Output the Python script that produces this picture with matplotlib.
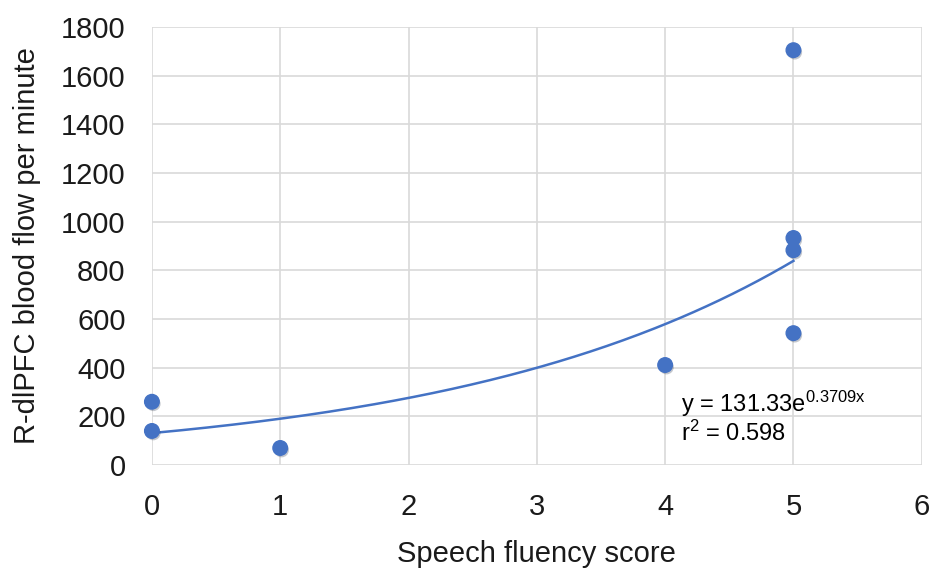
import numpy as np
import matplotlib.pyplot as plt
import matplotlib.patheffects as pe

plt.rcParams['font.family'] = ['Liberation Sans', 'DejaVu Sans']

# fluency score vs right dlPFC blood flow
score = [0, 0, 1, 4, 5, 5, 5, 5]
flow = [260, 140, 70, 411, 1705, 933, 883, 542]

# exponential trendline y = a*exp(b*x)
a = 131.33
b = 0.3709
r2 = 0.598

blue = '#4472C4'

fig = plt.figure(figsize=(9.32, 5.71), dpi=100)
ax = fig.add_axes([0.163, 0.1856, 0.826, 0.767])

xs = np.linspace(0, 5, 200)
ax.plot(xs, a * np.exp(b * xs), color=blue, lw=1.8, zorder=3)
ax.scatter(score, flow, s=110, color=blue, zorder=4, clip_on=False,
           path_effects=[pe.SimplePatchShadow(offset=(1, -1.5), alpha=0.25),
                         pe.Normal()])

ax.text(4.12, 250, 'y = 131.33e$\\mathregular{^{0.3709x}}$', fontsize=17, va='center')
ax.text(4.12, 132, 'r$\\mathregular{^{2}}$ = 0.598', fontsize=17, va='center')

ax.set_xlim(0, 6)
ax.set_ylim(0, 1800)
ax.set_xticks(range(0, 7))
ax.set_yticks(range(0, 1801, 200))
ax.grid(True, color='#D9D9D9', lw=1.2)
ax.set_axisbelow(True)
for s in ax.spines.values():
    s.set_visible(False)
ax.tick_params(length=0, labelsize=21, colors='#1a1a1a')
ax.tick_params(axis='x', pad=20)
ax.tick_params(axis='y', pad=19)

ax.set_xlabel('Speech fluency score', fontsize=21, labelpad=14, color='#1a1a1a')
ax.set_ylabel('R-dlPFC blood flow per minute', fontsize=21, labelpad=14, color='#1a1a1a')

fig.savefig('out.png', dpi=100)
